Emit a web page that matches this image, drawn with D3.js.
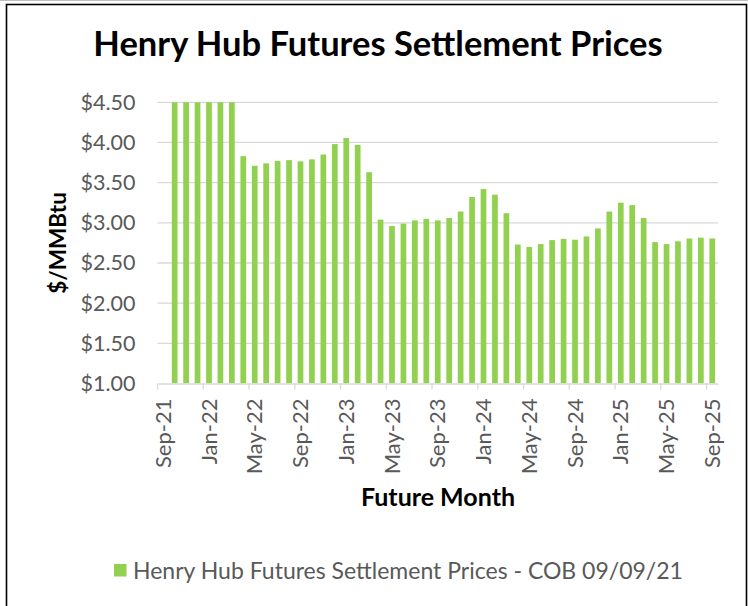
<!DOCTYPE html>
<html>
<head>
<meta charset="utf-8">
<script src="https://cdn.jsdelivr.net/npm/d3@7"></script>
<style>
  body { margin: 0; background: #fff; }
  svg { display: block; }
  text { font-family: Lato, "Open Sans", sans-serif; }
</style>
</head>
<body>
<script>
// months Sep-21 .. Sep-25
var months = ["Sep-21","Oct-21","Nov-21","Dec-21","Jan-22","Feb-22","Mar-22","Apr-22","May-22","Jun-22","Jul-22","Aug-22",
  "Sep-22","Oct-22","Nov-22","Dec-22","Jan-23","Feb-23","Mar-23","Apr-23","May-23","Jun-23","Jul-23","Aug-23",
  "Sep-23","Oct-23","Nov-23","Dec-23","Jan-24","Feb-24","Mar-24","Apr-24","May-24","Jun-24","Jul-24","Aug-24",
  "Sep-24","Oct-24","Nov-24","Dec-24","Jan-25","Feb-25","Mar-25","Apr-25","May-25","Jun-25","Jul-25","Aug-25","Sep-25"];

// settlement prices ($/MMBtu); Sep-21 has no value, first six run off the top of the axis
var prices = [null, 4.99, 5.05, 5.14, 5.21, 5.06, 4.78, 3.83, 3.71, 3.74, 3.77, 3.78,
  3.765, 3.79, 3.85, 3.98, 4.055, 3.97, 3.63, 3.04, 2.96, 2.99, 3.03, 3.05,
  3.03, 3.06, 3.14, 3.32, 3.42, 3.35, 3.12, 2.73, 2.70, 2.735, 2.785, 2.80,
  2.79, 2.83, 2.93, 3.14, 3.25, 3.22, 3.06, 2.76, 2.735, 2.77, 2.805, 2.815, 2.805];

var yTicks = [1, 1.5, 2, 2.5, 3, 3.5, 4, 4.5];
var seriesName = "Henry Hub Futures Settlement Prices - COB 09/09/21";

var data = months.map(function(m, i) { return {month: m, value: prices[i]}; });

var W = 748, H = 606;
var plot = {left: 157.5, right: 718, top: 102.3, bottom: 383.5};

var svg = d3.select("body").append("svg")
  .attr("width", W)
  .attr("height", H);

// outer frame (bottom edge is cut off)
svg.append("line")
  .attr("x1", 0).attr("x2", W).attr("y1", 0.5).attr("y2", 0.5)
  .attr("stroke", "#bfbfbf").attr("stroke-width", 1);
svg.append("rect")
  .attr("x", 6.5).attr("y", 4.5)
  .attr("width", 740).attr("height", H)
  .attr("fill", "#fff")
  .attr("stroke", "#000").attr("stroke-width", 1.6);

var x = d3.scaleBand()
  .domain(months)
  .range([plot.left, plot.right])
  .paddingInner(0.5)
  .paddingOuter(0.25);

var step = x.step();

var y = d3.scaleLinear()
  .domain([1, 4.5])
  .range([plot.bottom, plot.top]);

// gridlines
svg.append("g")
  .selectAll("line")
  .data(yTicks.slice(1))
  .enter().append("line")
    .attr("x1", plot.left).attr("x2", plot.right)
    .attr("y1", function(d) { return y(d); })
    .attr("y2", function(d) { return y(d); })
    .attr("stroke", "#d9d9d9").attr("stroke-width", 1.3);

// y axis labels
var yAxis = d3.axisLeft(y)
  .tickValues(yTicks)
  .tickFormat(d3.format("$.2f"))
  .tickSize(0)
  .tickPadding(22);

svg.append("g")
  .attr("transform", "translate(" + plot.left + ",0)")
  .call(yAxis)
  .call(function(g) { g.select(".domain").remove(); })
  .selectAll("text")
    .attr("fill", "#595959")
    .style("font-size", "21.5px");

// bars
svg.append("clipPath")
  .attr("id", "plotclip")
  .append("rect")
    .attr("x", plot.left).attr("y", plot.top)
    .attr("width", plot.right - plot.left)
    .attr("height", plot.bottom - plot.top);

svg.append("g")
  .attr("clip-path", "url(#plotclip)")
  .selectAll("rect")
  .data(data.filter(function(d) { return d.value != null; }))
  .enter().append("rect")
    .attr("x", function(d) { return x(d.month); })
    .attr("width", x.bandwidth())
    .attr("y", function(d) { return y(d.value); })
    .attr("height", function(d) { return plot.bottom - y(d.value); })
    .attr("fill", "#92d050");

// x axis: ticks sit on category boundaries, labels on category centres
var xAxis = d3.axisBottom(x)
  .tickValues(months.filter(function(d, i) { return i % 4 === 0; }))
  .tickSize(6)
  .tickSizeOuter(0);

var gx = svg.append("g")
  .attr("transform", "translate(0," + plot.bottom + ")")
  .call(xAxis);

gx.select(".domain")
  .attr("stroke", "#d9d9d9").attr("stroke-width", 1.3);

gx.selectAll(".tick line")
  .attr("x1", -step / 2).attr("x2", -step / 2)
  .attr("stroke", "#d9d9d9").attr("stroke-width", 1.3);

gx.selectAll(".tick text")
  .attr("fill", "#595959")
  .style("font-size", "22px")
  .attr("text-anchor", "end")
  .attr("transform", "rotate(-90)")
  .attr("x", -15)
  .attr("y", 0)
  .attr("dy", "0.35em");

// titles
svg.append("text")
  .attr("x", 378)
  .attr("y", 56)
  .attr("text-anchor", "middle")
  .style("font-size", "34.5px")
  .style("font-weight", "bold")
  .text("Henry Hub Futures Settlement Prices");

svg.append("text")
  .attr("transform", "translate(66,243) rotate(-90)")
  .attr("text-anchor", "middle")
  .style("font-size", "22.5px")
  .style("font-weight", "bold")
  .text("$/MMBtu");

svg.append("text")
  .attr("x", 438)
  .attr("y", 506)
  .attr("text-anchor", "middle")
  .style("font-size", "25px")
  .style("font-weight", "bold")
  .text("Future Month");

// legend
var legend = svg.append("g")
  .attr("transform", "translate(114,564)");

legend.append("rect")
  .attr("width", 12.5).attr("height", 12.5)
  .attr("fill", "#92d050");

legend.append("text")
  .attr("x", 19)
  .attr("y", 14.5)
  .attr("fill", "#595959")
  .style("font-size", "23px")
  .text(seriesName);
</script>
</body>
</html>
